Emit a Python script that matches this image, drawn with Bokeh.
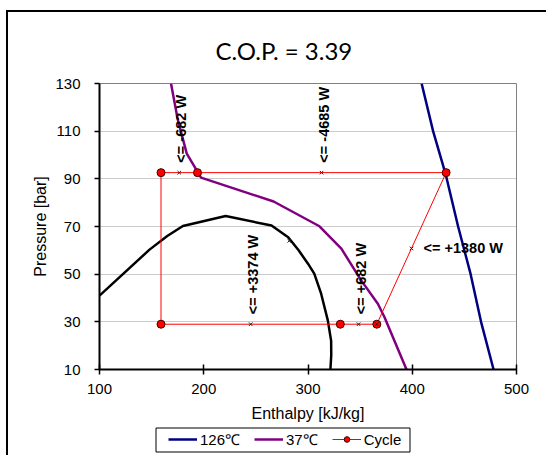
import math
from bokeh.plotting import figure
from bokeh.layouts import column
from bokeh.models import (Range1d, FixedTicker, LabelSet, ColumnDataSource,
                          Legend, LegendItem, BoxAnnotation)
from bokeh.embed import file_html
from bokeh.resources import INLINE
from bokeh.core.properties import value

# ---- data ----
x_ticks = [100, 200, 300, 400, 500]
y_ticks = [10, 30, 50, 70, 90, 110, 130]

# 126 degC isotherm
h_126 = [409, 420, 432, 444, 456, 466, 478]
p_126 = [130, 110, 92, 70, 50, 30, 10]

# 37 degC isotherm
h_37 = [168.6, 175, 183.7, 197.4, 267, 311, 332, 351, 367, 373.3, 394.5]
p_37 = [130, 115, 100.6, 90.5, 80.5, 70.1, 60.7, 47.4, 37.6, 32, 10]

# saturation dome
h_sat = [100, 148, 165, 180, 221, 265, 281, 291, 300, 306, 312.6, 319, 322.2, 322.3, 321.5]
p_sat = [41, 60.3, 66, 70.2, 74.4, 70.4, 65.5, 60, 54.4, 50.2, 41.8, 30.6, 22, 16, 10]

# cycle
h_cyc = [159, 194, 432.5, 366, 331, 159, 159]
p_cyc = [92.6, 92.6, 92.6, 29, 29, 29, 92.6]
h_pts = [159, 194, 432.5, 366, 331, 159]
p_pts = [92.6, 92.6, 92.6, 29, 29, 29]

# small cross markers (label anchors)
h_mid = [176.5, 313, 245, 348.5, 399.3, 366, 282]
p_mid = [92.6, 92.6, 29, 29, 60.8, 29, 64]

# power labels
lab_rot_h = [176.5, 313, 245, 348.5]
lab_rot_p = [92.6, 92.6, 29, 29]
lab_rot_t = ["<= -682 W", "<= -4685 W", "<= +3374 W", "<= +682 W"]
lab_hor_h = [399.3]
lab_hor_p = [60.8]
lab_hor_t = ["<= +1380 W"]

series_names = ["126\u2103", "37\u2103", "Cycle"]
title_text = "C.O.P. = 3.39"

FONT = "Liberation Sans"
C_126, C_37, C_CYC = "#000080", "#800080", "#FF0000"

p = figure(frame_width=417, frame_height=286,
           x_range=Range1d(100, 500), y_range=Range1d(10, 130),
           output_backend="svg", toolbar_location=None,
           min_border_left=91, min_border_right=30,
           min_border_top=71, min_border_bottom=90,
           background_fill_color="white", border_fill_color="white")

p.title.text = title_text
p.title.text_font = "Lato"
p.title.text_font_size = "24px"
p.title.text_font_style = "normal"
p.title.text_color = "black"
p.title.align = "left"
p.title.offset = 116
p.title.standoff = 37

p.outline_line_color = "#808080"
p.outline_line_width = 1

p.xaxis.ticker = FixedTicker(ticks=x_ticks)
p.yaxis.ticker = FixedTicker(ticks=y_ticks)
for ax in (p.xaxis, p.yaxis):
    ax.axis_line_color = "black"
    ax.axis_line_width = 2
    ax.major_tick_line_color = "black"
    ax.major_tick_line_width = 1.5
    ax.minor_tick_line_color = None
    ax.major_label_text_font = FONT
    ax.major_label_text_font_size = "15px"
    ax.major_label_text_color = "black"
    ax.axis_label_text_font = FONT
    ax.axis_label_text_font_size = "16px"
    ax.axis_label_text_font_style = "normal"
    ax.axis_label_text_color = "black"
p.xaxis.major_tick_in = 5
p.xaxis.major_tick_out = 5
p.yaxis.major_tick_in = 0
p.yaxis.major_tick_out = 5
p.xaxis.major_label_standoff = 9
p.yaxis.major_label_standoff = 14
p.xaxis.axis_label = "Enthalpy [kJ/kg]"
p.yaxis.axis_label = "Pressure [bar]"
p.xaxis.axis_label_standoff = 8
p.yaxis.axis_label_standoff = 3

p.xgrid.grid_line_color = None
p.ygrid.ticker = FixedTicker(ticks=y_ticks)
p.ygrid.grid_line_color = "#999999"
p.ygrid.grid_line_dash = "1 1"
p.ygrid.grid_line_width = 1

p.line(h_sat, p_sat, line_color="black", line_width=2.5)
p.line(h_126, p_126, line_color=C_126, line_width=2.5)
p.line(h_37, p_37, line_color=C_37, line_width=2.5)
p.line(h_cyc, p_cyc, line_color=C_CYC, line_width=1)
p.scatter(h_pts, p_pts, marker="circle", size=8, fill_color=C_CYC,
          line_color="#400000", line_width=1)
p.scatter(h_mid, p_mid, marker="x", size=5, line_color="#202020", line_width=1)

src_rot = ColumnDataSource(dict(x=lab_rot_h, y=lab_rot_p, text=lab_rot_t))
p.add_layout(LabelSet(x="x", y="y", text="text", source=src_rot, angle=math.pi / 2,
                      x_offset=2, y_offset=10, text_align="left", text_baseline="middle",
                      text_font=value(FONT), text_font_size=value("14.5px"),
                      text_font_style="bold", text_color="black"))
src_hor = ColumnDataSource(dict(x=lab_hor_h, y=lab_hor_p, text=lab_hor_t))
p.add_layout(LabelSet(x="x", y="y", text="text", source=src_hor,
                      x_offset=12, y_offset=0, text_align="left", text_baseline="middle",
                      text_font=value(FONT), text_font_size=value("14.5px"),
                      text_font_style="bold", text_color="black"))

# ---- legend strip (separate transparent figure laid over the bottom) ----
# its frame is aligned with the main frame by the column layout; x in page px
pl = figure(width=538, height=40, x_range=Range1d(99, 516), y_range=Range1d(0, 40),
            output_backend="svg", toolbar_location=None,
            x_axis_location=None, y_axis_location=None, min_border=0,
            background_fill_alpha=0, border_fill_alpha=0, outline_line_color=None)
pl.xgrid.visible = False
pl.ygrid.visible = False
pl.styles = {"margin-top": "-44px"}
pl.add_layout(BoxAnnotation(left=155.5, right=409.5, bottom=3.5, top=27.5,
                            fill_alpha=0, line_color="black", line_width=1,
                            line_alpha=1))
g1 = pl.line([-100, -99], [-100, -100], line_color=C_126, line_width=2.5)
g2 = pl.line([-100, -99], [-100, -100], line_color=C_37, line_width=2.5)
g3 = pl.line([-100, -99], [-100, -100], line_color=C_CYC, line_width=1)
g4 = pl.scatter([-100], [-100], marker="circle", size=8, fill_color=C_CYC,
                line_color="#400000", line_width=1)
legend = Legend(items=[LegendItem(label=series_names[0], renderers=[g1]),
                       LegendItem(label=series_names[1], renderers=[g2]),
                       LegendItem(label=series_names[2], renderers=[g3, g4])],
                orientation="horizontal", location=(69, 6),
                border_line_color=None, background_fill_alpha=0,
                label_text_font=FONT, label_text_font_size="15px",
                label_text_color="black",
                padding=0, spacing=14, glyph_width=29, glyph_height=14,
                label_height=14, label_standoff=3, margin=0)
pl.add_layout(legend, "center")

layout = column(p, pl, spacing=0,
                styles={"border-left": "2px solid black", "border-top": "2px solid black",
                        "margin-left": "6px", "margin-top": "10px"})

open("out.html", "w").write(file_html(layout, INLINE))
